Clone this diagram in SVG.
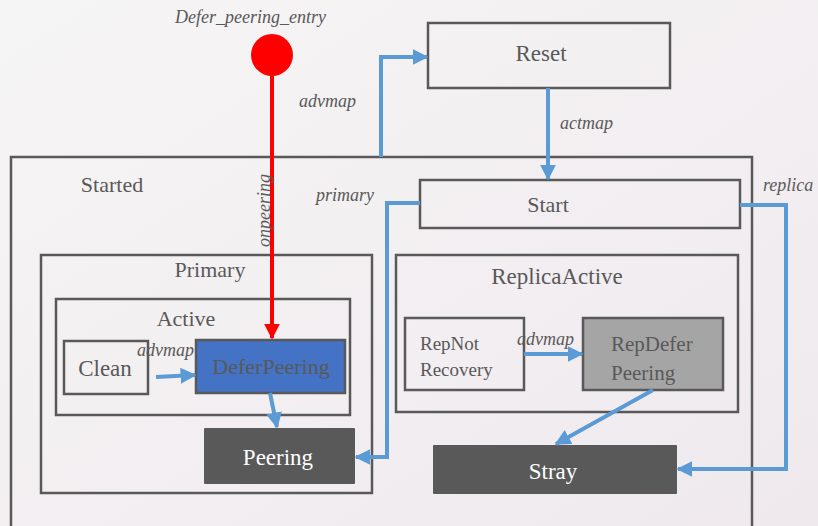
<svg xmlns="http://www.w3.org/2000/svg" width="818" height="526" viewBox="0 0 818 526" font-family="Liberation Serif, DejaVu Serif, serif">
<defs>
<linearGradient id="bg" x1="0" y1="0" x2="1" y2="1">
<stop offset="0" stop-color="#f6f5f5"/>
<stop offset="1" stop-color="#efe9ee"/>
</linearGradient>
<marker id="ab" viewBox="0 0 10 10" refX="9" refY="5" markerWidth="4" markerHeight="4" markerUnits="strokeWidth" orient="auto">
<path d="M0,0 L10,5 L0,10 Z" fill="#5B9BD5"/>
</marker>
<marker id="ar" viewBox="0 0 10 10" refX="9" refY="5" markerWidth="4" markerHeight="4" markerUnits="strokeWidth" orient="auto">
<path d="M0,0 L10,5 L0,10 Z" fill="#ff0000"/>
</marker>
</defs>
<style>
.box{fill:none;stroke:#595959;stroke-width:2.5}
.lbl{fill:#595959;text-anchor:middle}
.st{fill:#595959}
.wl{fill:#ffffff;text-anchor:middle}
.it{font-style:italic;fill:#595959;font-size:18px}
.cn{fill:none;stroke:#5B9BD5;stroke-width:4;marker-end:url(#ab)}
</style>
<rect width="818" height="526" fill="url(#bg)"/>

<g id="started">
<rect class="box" x="11" y="157" width="741" height="380"/>
<text class="lbl" x="112" y="192" font-size="22">Started</text>
</g>
<g id="reset">
<rect class="box" x="428" y="23" width="242" height="65"/>
<text class="lbl" x="541" y="61" font-size="23">Reset</text>
</g>
<g id="start">
<rect class="box" x="420" y="180" width="320" height="48"/>
<text class="lbl" x="548" y="212" font-size="22">Start</text>
</g>
<g id="primary">
<rect class="box" x="41" y="255" width="331" height="238"/>
<text class="lbl" x="210" y="277" font-size="22">Primary</text>
</g>
<g id="active">
<rect class="box" x="56" y="299" width="294" height="116"/>
<text class="lbl" x="186" y="326" font-size="22">Active</text>
</g>
<g id="clean">
<rect class="box" x="64" y="341" width="84" height="53"/>
<text class="lbl" x="105" y="376" font-size="23">Clean</text>
</g>
<g id="deferpeering">
<rect x="196" y="340" width="149" height="53" fill="#4472C4" stroke="#595959" stroke-width="2.5"/>
<text class="lbl" x="271" y="374" font-size="22">DeferPeering</text>
</g>
<g id="peering">
<rect x="204" y="428" width="151" height="56" fill="#595959" rx="1"/>
<text class="wl" x="278" y="465" font-size="23">Peering</text>
</g>
<g id="replicaactive">
<rect class="box" x="396" y="255" width="342" height="157"/>
<text class="lbl" x="557" y="284" font-size="23">ReplicaActive</text>
</g>
<g id="repnotrecovery">
<rect class="box" x="405" y="318" width="119" height="72"/>
<text class="st" x="420" y="350" font-size="19">RepNot</text>
<text class="st" x="420" y="376" font-size="19">Recovery</text>
</g>
<g id="repdeferpeering">
<rect x="583" y="318" width="140" height="72" fill="#a5a5a5" stroke="#595959" stroke-width="2.5"/>
<text class="st" x="611" y="351" font-size="21">RepDefer</text>
<text class="st" x="611" y="380" font-size="21">Peering</text>
</g>
<g id="stray">
<rect x="433" y="445" width="244" height="49" fill="#595959" rx="1"/>
<text class="wl" x="553" y="479" font-size="23">Stray</text>
</g>
<g id="entry">
<circle cx="272" cy="55" r="21" fill="#ff0000"/>
<text class="it" x="175" y="23">Defer_peering_entry</text>
</g>

<g id="connectors">
<path d="M272,76 V338" stroke="#ff0000" stroke-width="4" fill="none" marker-end="url(#ar)"/>
<path class="cn" d="M381,157 V57 H427"/>
<path class="cn" d="M548,88 V179"/>
<path class="cn" d="M420,203 H387 V457 H356"/>
<path class="cn" d="M740,205 H786 V469 H678"/>
<path class="cn" d="M156,377 L195,375"/>
<path class="cn" d="M270,393 L277,427"/>
<path class="cn" d="M524,354 H582"/>
<path class="cn" d="M653,390 L556,444"/>
<text class="it" x="299" y="107">advmap</text>
<text class="it" x="560" y="129">actmap</text>
<text class="it" x="316" y="201">primary</text>
<text class="it" x="763" y="191">replica</text>
<text class="it" x="137" y="356">advmap</text>
<text class="it" x="517" y="345">advmap</text>
<text class="it" transform="translate(270,247) rotate(-90)">onpeering</text>
</g>
</svg>
